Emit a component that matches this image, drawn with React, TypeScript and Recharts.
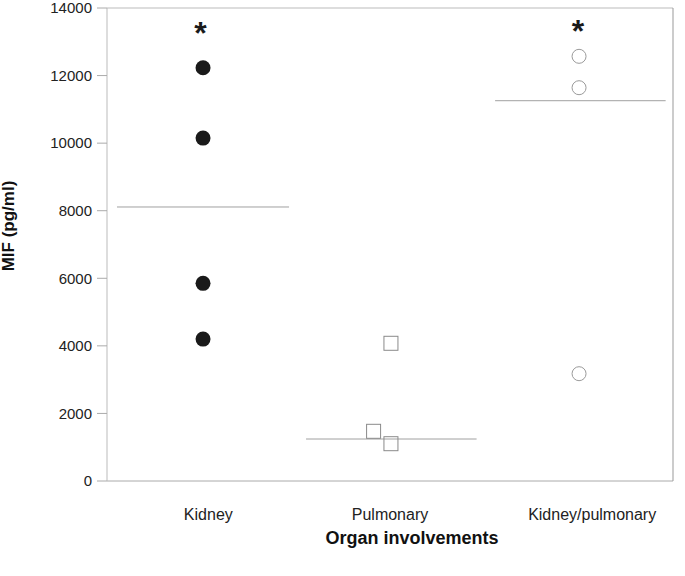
import React from 'react';
import { ComposedChart, Scatter, XAxis, YAxis, ReferenceLine, Label } from 'recharts';

const categories = ['Kidney', 'Pulmonary', 'Kidney/pulmonary'];
const categoryTicks = [0.5, 1.5, 2.5];
const yTicks = [0, 2000, 4000, 6000, 8000, 10000, 12000, 14000];

const kidney = [
  { x: 0.509, y: 12230 },
  { x: 0.509, y: 10150 },
  { x: 0.509, y: 5850 },
  { x: 0.509, y: 4200 },
];
const pulmonary = [
  { x: 1.505, y: 4076 },
  { x: 1.413, y: 1471 },
  { x: 1.505, y: 1104 },
];
const kidneyPulmonary = [
  { x: 2.502, y: 12570 },
  { x: 2.502, y: 11641 },
  { x: 2.502, y: 3176 },
];
const groupLines = [
  { x1: 0.053, x2: 0.965, y: 8110 },
  { x1: 1.055, x2: 1.959, y: 1243 },
  { x1: 2.057, x2: 2.961, y: 11256 },
];
const significance = [
  { x: 0.496, y: 13482, label: '*' },
  { x: 2.496, y: 13541, label: '*' },
];

// label nudges (px) applied to the category tick labels
const LABEL_NUDGE = [7, 0, 13.5];

const FONT = '"Liberation Sans", Arial, sans-serif';

const FilledCircle = (p: any) => <circle cx={p.cx} cy={p.cy} r={7.5} fill="#1a1a1a" />;
const OpenSquare = (p: any) => (
  <rect x={p.cx - 7} y={p.cy - 7} width={14} height={14} fill="none" stroke="#8a8a8a" strokeWidth={1} />
);
const OpenCircle = (p: any) => <circle cx={p.cx} cy={p.cy} r={7} fill="none" stroke="#9a9a9a" strokeWidth={1} />;
const Star = (p: any) => (
  <text x={p.cx} y={p.cy + 18} textAnchor="middle" fontFamily={FONT} fontWeight="bold" fontSize={32} fill="#1a1a1a">
    {p.payload.label}
  </text>
);

const CategoryTick = (p: any) => {
  const idx = Math.floor(p.payload.value);
  return (
    <text
      x={p.x + (LABEL_NUDGE[idx] || 0)}
      y={p.y}
      dy="0.71em"
      textAnchor="middle"
      fontFamily={FONT}
      fontSize={16}
      fill="#222"
    >
      {categories[idx]}
    </text>
  );
};

export default function App() {
  return (
    <div style={{ position: 'absolute', left: 0, top: 0, background: '#fff' }}>
      <ComposedChart width={685} height={576} margin={{ top: 8, right: 0, bottom: 0, left: 0 }}>
        <XAxis
          type="number"
          dataKey="x"
          domain={[0, 3]}
          ticks={categoryTicks}
          height={95}
          tickLine={false}
          tickSize={0}
          tickMargin={28}
          axisLine={{ stroke: '#aaaaaa' }}
          tick={CategoryTick}
          interval={0}
        >
          <Label
            value="Organ involvements"
            position="insideBottom"
            offset={32}
            dx={22}
            style={{ fontFamily: FONT, fontWeight: 'bold', fontSize: 18, fill: '#111' }}
          />
        </XAxis>
        <YAxis
          type="number"
          dataKey="y"
          domain={[0, 14000]}
          ticks={yTicks}
          width={107}
          tickSize={10}
          tickMargin={5}
          interval={0}
          axisLine={{ stroke: '#bbbbbb' }}
          tickLine={{ stroke: '#aaaaaa' }}
          tick={{ fill: '#222', fontSize: 15, fontFamily: FONT }}
        >
          <Label
            content={() => (
              <text
                x={13.5}
                y={226}
                transform="rotate(-90 13.5 226)"
                textAnchor="middle"
                fontFamily={FONT}
                fontWeight="bold"
                fontSize={17}
                fill="#111"
              >
                MIF (pg/ml)
              </text>
            )}
          />
        </YAxis>
        <YAxis
          yAxisId="right"
          orientation="right"
          type="number"
          domain={[0, 14000]}
          ticks={yTicks}
          interval={0}
          width={12}
          tickSize={11}
          tick={false}
          axisLine={{ stroke: '#999999' }}
          tickLine={{ stroke: '#999999' }}
        />
        <ReferenceLine y={14000} stroke="#bbbbbb" />
        {groupLines.map((l, i) => (
          <ReferenceLine
            key={i}
            segment={[
              { x: l.x1, y: l.y },
              { x: l.x2, y: l.y },
            ]}
            stroke="#a0a0a0"
            strokeWidth={1}
          />
        ))}
        <Scatter data={kidney} shape={FilledCircle} isAnimationActive={false} />
        <Scatter data={pulmonary} shape={OpenSquare} isAnimationActive={false} />
        <Scatter data={kidneyPulmonary} shape={OpenCircle} isAnimationActive={false} />
        <Scatter data={significance} shape={Star} isAnimationActive={false} />
      </ComposedChart>
    </div>
  );
}
